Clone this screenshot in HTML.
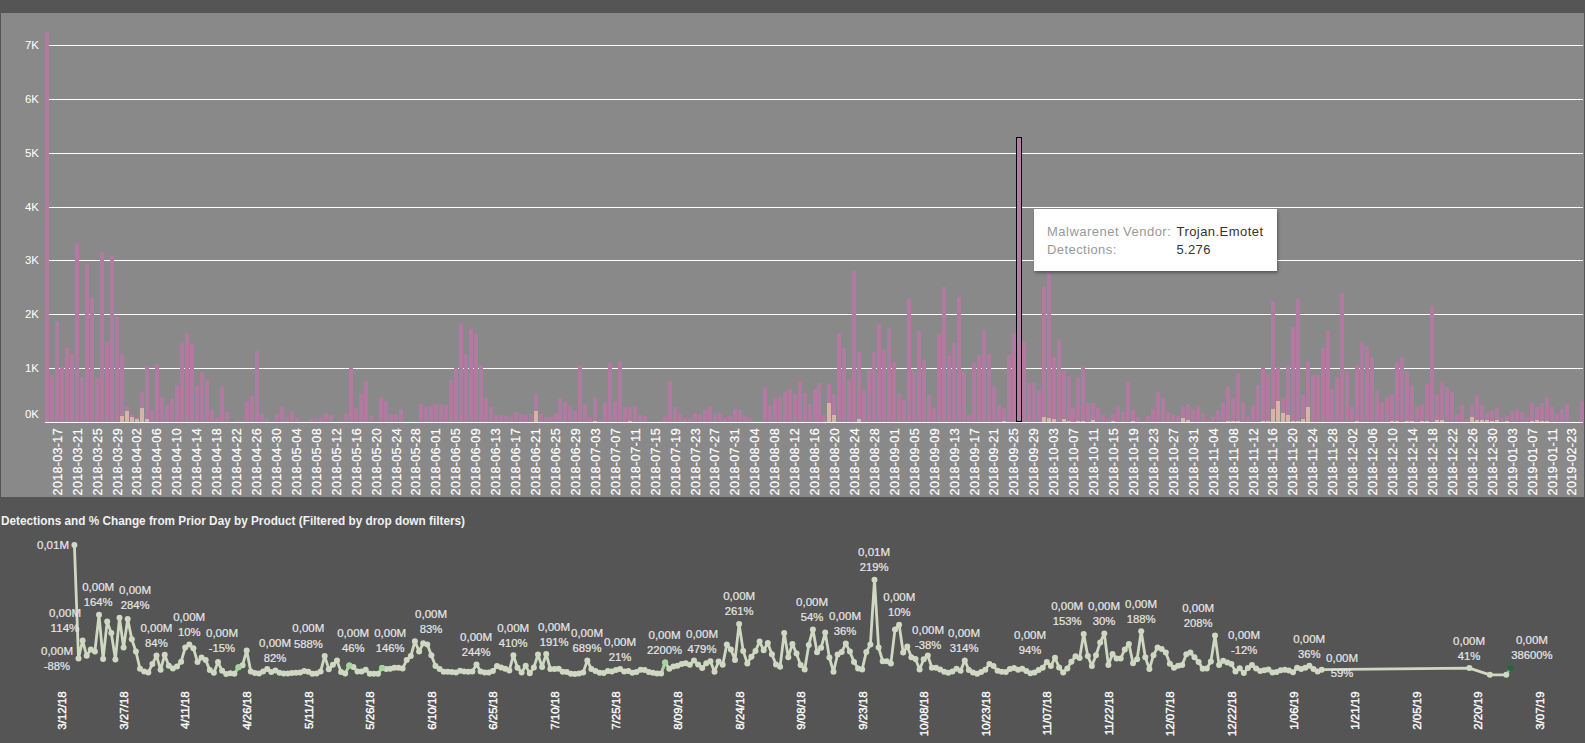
<!DOCTYPE html><html><head><meta charset="utf-8"><title>Detections</title><style>
html,body{margin:0;padding:0;background:#555555;overflow:hidden}
svg{display:block}
text{font-family:'Liberation Sans', Arial, sans-serif}
</style></head><body>
<svg width="1585" height="743" viewBox="0 0 1585 743">
<rect width="1585" height="743" fill="#555555"/>
<rect x="1" y="13" width="1583" height="484" fill="#898989"/>
<g fill="#ffffff" shape-rendering="crispEdges">
<rect x="45" y="45" width="1538" height="1"/>
<rect x="45" y="99" width="1538" height="1"/>
<rect x="45" y="153" width="1538" height="1"/>
<rect x="45" y="207" width="1538" height="1"/>
<rect x="45" y="260" width="1538" height="1"/>
<rect x="45" y="314" width="1538" height="1"/>
<rect x="45" y="368" width="1538" height="1"/>
</g>
<g fill="#ffffff" font-size="11" text-anchor="end">
<text x="39" y="48.6" textLength="14" lengthAdjust="spacingAndGlyphs">7K</text>
<text x="39" y="102.6" textLength="14" lengthAdjust="spacingAndGlyphs">6K</text>
<text x="39" y="156.6" textLength="14" lengthAdjust="spacingAndGlyphs">5K</text>
<text x="39" y="210.6" textLength="14" lengthAdjust="spacingAndGlyphs">4K</text>
<text x="39" y="263.6" textLength="14" lengthAdjust="spacingAndGlyphs">3K</text>
<text x="39" y="317.6" textLength="14" lengthAdjust="spacingAndGlyphs">2K</text>
<text x="39" y="371.6" textLength="14" lengthAdjust="spacingAndGlyphs">1K</text>
<text x="39" y="418.1" textLength="14" lengthAdjust="spacingAndGlyphs">0K</text>
</g>
<g shape-rendering="crispEdges">
<rect x="45" y="32.0" width="4" height="390.0" fill="#b07aa1"/>
<rect x="50" y="375.0" width="4" height="47.0" fill="#b07aa1"/>
<rect x="55" y="321.0" width="4" height="101.0" fill="#b07aa1"/>
<rect x="60" y="367.0" width="4" height="55.0" fill="#b07aa1"/>
<rect x="65" y="348.0" width="4" height="74.0" fill="#b07aa1"/>
<rect x="70" y="354.0" width="4" height="68.0" fill="#b07aa1"/>
<rect x="75" y="243.0" width="4" height="179.0" fill="#b07aa1"/>
<rect x="80" y="377.0" width="4" height="45.0" fill="#b07aa1"/>
<rect x="85" y="263.5" width="4" height="158.5" fill="#b07aa1"/>
<rect x="90" y="298.0" width="4" height="124.0" fill="#b07aa1"/>
<rect x="95" y="378.0" width="4" height="44.0" fill="#b07aa1"/>
<rect x="100" y="252.0" width="4" height="170.0" fill="#b07aa1"/>
<rect x="105" y="342.0" width="4" height="80.0" fill="#b07aa1"/>
<rect x="110" y="255.5" width="4" height="166.5" fill="#b07aa1"/>
<rect x="115" y="317.0" width="4" height="105.0" fill="#b07aa1"/>
<rect x="120" y="354.0" width="4" height="61.8" fill="#b07aa1"/>
<rect x="120" y="415.8" width="4" height="6.2" fill="#d7b5a6"/>
<rect x="125" y="406.0" width="4" height="5.0" fill="#b07aa1"/>
<rect x="125" y="411.0" width="4" height="11.0" fill="#d7b5a6"/>
<rect x="130" y="414.0" width="4" height="3.0" fill="#b07aa1"/>
<rect x="130" y="417.0" width="4" height="5.0" fill="#d7b5a6"/>
<rect x="135" y="417.0" width="4" height="1.9" fill="#b07aa1"/>
<rect x="135" y="418.9" width="4" height="3.1" fill="#d7b5a6"/>
<rect x="140" y="392.0" width="4" height="16.0" fill="#b07aa1"/>
<rect x="140" y="408.0" width="4" height="14.0" fill="#d7b5a6"/>
<rect x="145" y="366.0" width="4" height="53.0" fill="#b07aa1"/>
<rect x="145" y="419.0" width="4" height="3.0" fill="#d7b5a6"/>
<rect x="150" y="409.5" width="4" height="12.5" fill="#b07aa1"/>
<rect x="155" y="364.0" width="4" height="58.0" fill="#b07aa1"/>
<rect x="160" y="397.0" width="4" height="25.0" fill="#b07aa1"/>
<rect x="165" y="405.0" width="4" height="17.0" fill="#b07aa1"/>
<rect x="170" y="399.0" width="4" height="23.0" fill="#b07aa1"/>
<rect x="175" y="385.0" width="4" height="37.0" fill="#b07aa1"/>
<rect x="180" y="342.0" width="4" height="80.0" fill="#b07aa1"/>
<rect x="185" y="333.0" width="4" height="89.0" fill="#b07aa1"/>
<rect x="190" y="344.0" width="4" height="78.0" fill="#b07aa1"/>
<rect x="195" y="386.0" width="4" height="36.0" fill="#b07aa1"/>
<rect x="200" y="372.0" width="4" height="50.0" fill="#b07aa1"/>
<rect x="205" y="380.0" width="4" height="42.0" fill="#b07aa1"/>
<rect x="210" y="410.0" width="4" height="12.0" fill="#b07aa1"/>
<rect x="215" y="418.0" width="4" height="4.0" fill="#b07aa1"/>
<rect x="220" y="386.0" width="4" height="36.0" fill="#b07aa1"/>
<rect x="225" y="412.0" width="4" height="10.0" fill="#b07aa1"/>
<rect x="235" y="420.0" width="4" height="2.0" fill="#b07aa1"/>
<rect x="240" y="421.0" width="4" height="1.0" fill="#b07aa1"/>
<rect x="245" y="401.5" width="4" height="20.5" fill="#b07aa1"/>
<rect x="250" y="395.5" width="4" height="26.5" fill="#b07aa1"/>
<rect x="255" y="351.0" width="4" height="71.0" fill="#b07aa1"/>
<rect x="260" y="414.0" width="4" height="8.0" fill="#b07aa1"/>
<rect x="265" y="419.0" width="4" height="3.0" fill="#b07aa1"/>
<rect x="270" y="420.5" width="4" height="1.5" fill="#b07aa1"/>
<rect x="275" y="414.0" width="4" height="8.0" fill="#b07aa1"/>
<rect x="280" y="407.0" width="4" height="15.0" fill="#b07aa1"/>
<rect x="285" y="416.5" width="4" height="5.5" fill="#b07aa1"/>
<rect x="290" y="411.0" width="4" height="11.0" fill="#b07aa1"/>
<rect x="295" y="418.0" width="4" height="4.0" fill="#b07aa1"/>
<rect x="300" y="420.5" width="4" height="1.5" fill="#b07aa1"/>
<rect x="304" y="420.5" width="4" height="1.5" fill="#b07aa1"/>
<rect x="309" y="419.0" width="4" height="3.0" fill="#b07aa1"/>
<rect x="314" y="418.5" width="4" height="3.5" fill="#b07aa1"/>
<rect x="319" y="417.0" width="4" height="5.0" fill="#b07aa1"/>
<rect x="324" y="413.0" width="4" height="9.0" fill="#b07aa1"/>
<rect x="329" y="415.0" width="4" height="7.0" fill="#b07aa1"/>
<rect x="334" y="421.5" width="4" height="0.5" fill="#b07aa1"/>
<rect x="339" y="420.5" width="4" height="1.5" fill="#b07aa1"/>
<rect x="344" y="414.0" width="4" height="8.0" fill="#b07aa1"/>
<rect x="349" y="368.0" width="4" height="54.0" fill="#b07aa1"/>
<rect x="354" y="407.5" width="4" height="14.5" fill="#b07aa1"/>
<rect x="359" y="394.0" width="4" height="28.0" fill="#b07aa1"/>
<rect x="364" y="381.0" width="4" height="41.0" fill="#b07aa1"/>
<rect x="369" y="416.0" width="4" height="6.0" fill="#b07aa1"/>
<rect x="374" y="420.5" width="4" height="1.5" fill="#b07aa1"/>
<rect x="379" y="396.5" width="4" height="25.5" fill="#b07aa1"/>
<rect x="384" y="401.0" width="4" height="21.0" fill="#b07aa1"/>
<rect x="389" y="414.0" width="4" height="8.0" fill="#b07aa1"/>
<rect x="394" y="414.0" width="4" height="8.0" fill="#b07aa1"/>
<rect x="399" y="409.0" width="4" height="13.0" fill="#b07aa1"/>
<rect x="404" y="421.5" width="4" height="0.5" fill="#b07aa1"/>
<rect x="409" y="421.0" width="4" height="1.0" fill="#b07aa1"/>
<rect x="414" y="421.0" width="4" height="1.0" fill="#b07aa1"/>
<rect x="419" y="404.0" width="4" height="18.0" fill="#b07aa1"/>
<rect x="424" y="407.0" width="4" height="15.0" fill="#b07aa1"/>
<rect x="429" y="406.0" width="4" height="16.0" fill="#b07aa1"/>
<rect x="434" y="403.5" width="4" height="18.5" fill="#b07aa1"/>
<rect x="439" y="403.5" width="4" height="18.5" fill="#b07aa1"/>
<rect x="444" y="405.0" width="4" height="17.0" fill="#b07aa1"/>
<rect x="449" y="380.0" width="4" height="42.0" fill="#b07aa1"/>
<rect x="454" y="368.0" width="4" height="54.0" fill="#b07aa1"/>
<rect x="459" y="323.0" width="4" height="99.0" fill="#b07aa1"/>
<rect x="464" y="354.0" width="4" height="68.0" fill="#b07aa1"/>
<rect x="469" y="329.0" width="4" height="93.0" fill="#b07aa1"/>
<rect x="474" y="333.0" width="4" height="89.0" fill="#b07aa1"/>
<rect x="479" y="365.0" width="4" height="57.0" fill="#b07aa1"/>
<rect x="484" y="398.0" width="4" height="24.0" fill="#b07aa1"/>
<rect x="489" y="407.0" width="4" height="15.0" fill="#b07aa1"/>
<rect x="494" y="415.0" width="4" height="7.0" fill="#b07aa1"/>
<rect x="499" y="415.0" width="4" height="7.0" fill="#b07aa1"/>
<rect x="504" y="416.0" width="4" height="6.0" fill="#b07aa1"/>
<rect x="509" y="417.0" width="4" height="5.0" fill="#b07aa1"/>
<rect x="514" y="412.0" width="4" height="10.0" fill="#b07aa1"/>
<rect x="519" y="414.0" width="4" height="8.0" fill="#b07aa1"/>
<rect x="524" y="415.0" width="4" height="7.0" fill="#b07aa1"/>
<rect x="529" y="414.0" width="4" height="8.0" fill="#b07aa1"/>
<rect x="534" y="393.5" width="4" height="17.6" fill="#b07aa1"/>
<rect x="534" y="411.1" width="4" height="10.9" fill="#d7b5a6"/>
<rect x="539" y="414.0" width="4" height="8.0" fill="#b07aa1"/>
<rect x="544" y="417.0" width="4" height="5.0" fill="#b07aa1"/>
<rect x="549" y="417.0" width="4" height="5.0" fill="#b07aa1"/>
<rect x="554" y="413.0" width="4" height="9.0" fill="#b07aa1"/>
<rect x="558" y="398.0" width="4" height="24.0" fill="#b07aa1"/>
<rect x="563" y="402.0" width="4" height="20.0" fill="#b07aa1"/>
<rect x="568" y="406.0" width="4" height="16.0" fill="#b07aa1"/>
<rect x="573" y="411.0" width="4" height="11.0" fill="#b07aa1"/>
<rect x="578" y="365.0" width="4" height="57.0" fill="#b07aa1"/>
<rect x="583" y="403.5" width="4" height="18.5" fill="#b07aa1"/>
<rect x="588" y="417.0" width="4" height="5.0" fill="#b07aa1"/>
<rect x="593" y="397.0" width="4" height="23.8" fill="#b07aa1"/>
<rect x="593" y="420.8" width="4" height="1.2" fill="#d7b5a6"/>
<rect x="598" y="420.0" width="4" height="2.0" fill="#b07aa1"/>
<rect x="603" y="402.0" width="4" height="20.0" fill="#b07aa1"/>
<rect x="608" y="363.0" width="4" height="59.0" fill="#b07aa1"/>
<rect x="613" y="401.0" width="4" height="21.0" fill="#b07aa1"/>
<rect x="618" y="361.0" width="4" height="61.0" fill="#b07aa1"/>
<rect x="623" y="407.0" width="4" height="15.0" fill="#b07aa1"/>
<rect x="628" y="407.0" width="4" height="14.0" fill="#b07aa1"/>
<rect x="628" y="421.0" width="4" height="1.0" fill="#d7b5a6"/>
<rect x="633" y="406.0" width="4" height="16.0" fill="#b07aa1"/>
<rect x="638" y="415.0" width="4" height="7.0" fill="#b07aa1"/>
<rect x="643" y="416.0" width="4" height="6.0" fill="#b07aa1"/>
<rect x="648" y="421.5" width="4" height="0.5" fill="#b07aa1"/>
<rect x="658" y="420.5" width="4" height="1.5" fill="#b07aa1"/>
<rect x="663" y="417.0" width="4" height="5.0" fill="#b07aa1"/>
<rect x="668" y="381.0" width="4" height="41.0" fill="#b07aa1"/>
<rect x="673" y="407.0" width="4" height="15.0" fill="#b07aa1"/>
<rect x="678" y="413.0" width="4" height="9.0" fill="#b07aa1"/>
<rect x="683" y="418.0" width="4" height="4.0" fill="#b07aa1"/>
<rect x="688" y="419.0" width="4" height="3.0" fill="#b07aa1"/>
<rect x="693" y="413.0" width="4" height="9.0" fill="#b07aa1"/>
<rect x="698" y="414.0" width="4" height="8.0" fill="#b07aa1"/>
<rect x="703" y="410.0" width="4" height="12.0" fill="#b07aa1"/>
<rect x="708" y="407.0" width="4" height="15.0" fill="#b07aa1"/>
<rect x="713" y="414.0" width="4" height="8.0" fill="#b07aa1"/>
<rect x="718" y="413.0" width="4" height="9.0" fill="#b07aa1"/>
<rect x="723" y="418.0" width="4" height="4.0" fill="#b07aa1"/>
<rect x="728" y="416.0" width="4" height="6.0" fill="#b07aa1"/>
<rect x="733" y="409.0" width="4" height="13.0" fill="#b07aa1"/>
<rect x="738" y="410.0" width="4" height="12.0" fill="#b07aa1"/>
<rect x="743" y="416.0" width="4" height="6.0" fill="#b07aa1"/>
<rect x="748" y="418.0" width="4" height="4.0" fill="#b07aa1"/>
<rect x="753" y="420.5" width="4" height="1.5" fill="#b07aa1"/>
<rect x="758" y="420.5" width="4" height="1.5" fill="#b07aa1"/>
<rect x="763" y="387.0" width="4" height="35.0" fill="#b07aa1"/>
<rect x="768" y="406.0" width="4" height="16.0" fill="#b07aa1"/>
<rect x="773" y="399.0" width="4" height="23.0" fill="#b07aa1"/>
<rect x="778" y="397.0" width="4" height="25.0" fill="#b07aa1"/>
<rect x="783" y="392.0" width="4" height="30.0" fill="#b07aa1"/>
<rect x="788" y="389.0" width="4" height="33.0" fill="#b07aa1"/>
<rect x="793" y="394.0" width="4" height="28.0" fill="#b07aa1"/>
<rect x="798" y="381.0" width="4" height="41.0" fill="#b07aa1"/>
<rect x="803" y="393.0" width="4" height="29.0" fill="#b07aa1"/>
<rect x="808" y="404.0" width="4" height="18.0" fill="#b07aa1"/>
<rect x="813" y="389.0" width="4" height="33.0" fill="#b07aa1"/>
<rect x="817" y="383.0" width="4" height="39.0" fill="#b07aa1"/>
<rect x="822" y="415.0" width="4" height="7.0" fill="#b07aa1"/>
<rect x="827" y="384.0" width="4" height="19.1" fill="#b07aa1"/>
<rect x="827" y="403.1" width="4" height="18.9" fill="#d7b5a6"/>
<rect x="832" y="394.0" width="4" height="21.2" fill="#b07aa1"/>
<rect x="832" y="415.2" width="4" height="6.8" fill="#d7b5a6"/>
<rect x="837" y="333.0" width="4" height="89.0" fill="#b07aa1"/>
<rect x="842" y="348.0" width="4" height="74.0" fill="#b07aa1"/>
<rect x="847" y="380.0" width="4" height="42.0" fill="#b07aa1"/>
<rect x="852" y="271.0" width="4" height="151.0" fill="#b07aa1"/>
<rect x="857" y="352.0" width="4" height="66.8" fill="#b07aa1"/>
<rect x="857" y="418.8" width="4" height="3.2" fill="#d7b5a6"/>
<rect x="862" y="390.0" width="4" height="32.0" fill="#b07aa1"/>
<rect x="867" y="370.0" width="4" height="52.0" fill="#b07aa1"/>
<rect x="872" y="352.0" width="4" height="70.0" fill="#b07aa1"/>
<rect x="877" y="324.0" width="4" height="98.0" fill="#b07aa1"/>
<rect x="882" y="350.0" width="4" height="72.0" fill="#b07aa1"/>
<rect x="887" y="328.0" width="4" height="94.0" fill="#b07aa1"/>
<rect x="892" y="362.0" width="4" height="60.0" fill="#b07aa1"/>
<rect x="897" y="393.0" width="4" height="29.0" fill="#b07aa1"/>
<rect x="902" y="400.0" width="4" height="22.0" fill="#b07aa1"/>
<rect x="907" y="298.0" width="4" height="124.0" fill="#b07aa1"/>
<rect x="912" y="371.0" width="4" height="51.0" fill="#b07aa1"/>
<rect x="917" y="331.0" width="4" height="91.0" fill="#b07aa1"/>
<rect x="922" y="360.0" width="4" height="62.0" fill="#b07aa1"/>
<rect x="927" y="395.0" width="4" height="27.0" fill="#b07aa1"/>
<rect x="932" y="408.0" width="4" height="14.0" fill="#b07aa1"/>
<rect x="937" y="334.0" width="4" height="88.0" fill="#b07aa1"/>
<rect x="942" y="287.0" width="4" height="135.0" fill="#b07aa1"/>
<rect x="947" y="356.0" width="4" height="66.0" fill="#b07aa1"/>
<rect x="952" y="343.0" width="4" height="79.0" fill="#b07aa1"/>
<rect x="957" y="297.0" width="4" height="125.0" fill="#b07aa1"/>
<rect x="962" y="372.0" width="4" height="50.0" fill="#b07aa1"/>
<rect x="967" y="415.0" width="4" height="7.0" fill="#b07aa1"/>
<rect x="972" y="363.0" width="4" height="59.0" fill="#b07aa1"/>
<rect x="977" y="355.0" width="4" height="67.0" fill="#b07aa1"/>
<rect x="982" y="330.0" width="4" height="92.0" fill="#b07aa1"/>
<rect x="987" y="354.0" width="4" height="68.0" fill="#b07aa1"/>
<rect x="992" y="386.0" width="4" height="36.0" fill="#b07aa1"/>
<rect x="997" y="405.0" width="4" height="17.0" fill="#b07aa1"/>
<rect x="1002" y="408.0" width="4" height="13.0" fill="#b07aa1"/>
<rect x="1002" y="421.0" width="4" height="1.0" fill="#d7b5a6"/>
<rect x="1007" y="355.0" width="4" height="67.0" fill="#b07aa1"/>
<rect x="1012" y="333.0" width="4" height="89.0" fill="#b07aa1"/>
<rect x="1022" y="342.0" width="4" height="80.0" fill="#b07aa1"/>
<rect x="1027" y="383.0" width="4" height="39.0" fill="#b07aa1"/>
<rect x="1032" y="383.0" width="4" height="39.0" fill="#b07aa1"/>
<rect x="1037" y="390.0" width="4" height="32.0" fill="#b07aa1"/>
<rect x="1042" y="287.0" width="4" height="130.1" fill="#b07aa1"/>
<rect x="1042" y="417.1" width="4" height="4.9" fill="#d7b5a6"/>
<rect x="1047" y="273.0" width="4" height="145.1" fill="#b07aa1"/>
<rect x="1047" y="418.1" width="4" height="3.9" fill="#d7b5a6"/>
<rect x="1052" y="357.0" width="4" height="62.1" fill="#b07aa1"/>
<rect x="1052" y="419.1" width="4" height="2.9" fill="#d7b5a6"/>
<rect x="1057" y="339.0" width="4" height="83.0" fill="#b07aa1"/>
<rect x="1062" y="371.0" width="4" height="48.1" fill="#b07aa1"/>
<rect x="1062" y="419.1" width="4" height="2.9" fill="#d7b5a6"/>
<rect x="1067" y="376.0" width="4" height="45.0" fill="#b07aa1"/>
<rect x="1067" y="421.0" width="4" height="1.0" fill="#d7b5a6"/>
<rect x="1071" y="408.0" width="4" height="14.0" fill="#b07aa1"/>
<rect x="1076" y="377.0" width="4" height="44.0" fill="#b07aa1"/>
<rect x="1076" y="421.0" width="4" height="1.0" fill="#d7b5a6"/>
<rect x="1081" y="366.0" width="4" height="55.0" fill="#b07aa1"/>
<rect x="1081" y="421.0" width="4" height="1.0" fill="#d7b5a6"/>
<rect x="1086" y="403.0" width="4" height="19.0" fill="#b07aa1"/>
<rect x="1091" y="403.0" width="4" height="17.0" fill="#b07aa1"/>
<rect x="1091" y="420.0" width="4" height="2.0" fill="#d7b5a6"/>
<rect x="1096" y="408.0" width="4" height="14.0" fill="#b07aa1"/>
<rect x="1101" y="415.0" width="4" height="7.0" fill="#b07aa1"/>
<rect x="1106" y="418.0" width="4" height="4.0" fill="#b07aa1"/>
<rect x="1111" y="414.0" width="4" height="7.0" fill="#b07aa1"/>
<rect x="1111" y="421.0" width="4" height="1.0" fill="#d7b5a6"/>
<rect x="1116" y="406.0" width="4" height="16.0" fill="#b07aa1"/>
<rect x="1121" y="412.0" width="4" height="10.0" fill="#b07aa1"/>
<rect x="1126" y="381.0" width="4" height="41.0" fill="#b07aa1"/>
<rect x="1131" y="410.0" width="4" height="11.0" fill="#b07aa1"/>
<rect x="1131" y="421.0" width="4" height="1.0" fill="#d7b5a6"/>
<rect x="1136" y="417.0" width="4" height="5.0" fill="#b07aa1"/>
<rect x="1141" y="421.5" width="4" height="0.5" fill="#b07aa1"/>
<rect x="1146" y="416.0" width="4" height="6.0" fill="#b07aa1"/>
<rect x="1151" y="409.0" width="4" height="13.0" fill="#b07aa1"/>
<rect x="1156" y="392.0" width="4" height="30.0" fill="#b07aa1"/>
<rect x="1161" y="398.0" width="4" height="24.0" fill="#b07aa1"/>
<rect x="1166" y="412.0" width="4" height="10.0" fill="#b07aa1"/>
<rect x="1171" y="415.0" width="4" height="7.0" fill="#b07aa1"/>
<rect x="1176" y="416.0" width="4" height="6.0" fill="#b07aa1"/>
<rect x="1181" y="407.0" width="4" height="11.1" fill="#b07aa1"/>
<rect x="1181" y="418.1" width="4" height="3.9" fill="#d7b5a6"/>
<rect x="1186" y="404.0" width="4" height="16.0" fill="#b07aa1"/>
<rect x="1186" y="420.0" width="4" height="2.0" fill="#d7b5a6"/>
<rect x="1191" y="409.0" width="4" height="13.0" fill="#b07aa1"/>
<rect x="1196" y="406.0" width="4" height="16.0" fill="#b07aa1"/>
<rect x="1201" y="413.0" width="4" height="9.0" fill="#b07aa1"/>
<rect x="1206" y="420.0" width="4" height="2.0" fill="#b07aa1"/>
<rect x="1211" y="417.0" width="4" height="5.0" fill="#b07aa1"/>
<rect x="1216" y="410.0" width="4" height="12.0" fill="#b07aa1"/>
<rect x="1221" y="403.0" width="4" height="19.0" fill="#b07aa1"/>
<rect x="1226" y="386.0" width="4" height="35.0" fill="#b07aa1"/>
<rect x="1226" y="421.0" width="4" height="1.0" fill="#d7b5a6"/>
<rect x="1231" y="398.0" width="4" height="23.0" fill="#b07aa1"/>
<rect x="1231" y="421.0" width="4" height="1.0" fill="#d7b5a6"/>
<rect x="1236" y="373.0" width="4" height="48.0" fill="#b07aa1"/>
<rect x="1236" y="421.0" width="4" height="1.0" fill="#d7b5a6"/>
<rect x="1241" y="402.0" width="4" height="20.0" fill="#b07aa1"/>
<rect x="1246" y="417.0" width="4" height="5.0" fill="#b07aa1"/>
<rect x="1251" y="405.0" width="4" height="17.0" fill="#b07aa1"/>
<rect x="1256" y="385.0" width="4" height="37.0" fill="#b07aa1"/>
<rect x="1261" y="368.0" width="4" height="53.0" fill="#b07aa1"/>
<rect x="1261" y="421.0" width="4" height="1.0" fill="#d7b5a6"/>
<rect x="1266" y="374.0" width="4" height="47.0" fill="#b07aa1"/>
<rect x="1266" y="421.0" width="4" height="1.0" fill="#d7b5a6"/>
<rect x="1271" y="301.0" width="4" height="108.1" fill="#b07aa1"/>
<rect x="1271" y="409.1" width="4" height="12.9" fill="#d7b5a6"/>
<rect x="1276" y="367.0" width="4" height="34.1" fill="#b07aa1"/>
<rect x="1276" y="401.1" width="4" height="20.9" fill="#d7b5a6"/>
<rect x="1281" y="398.0" width="4" height="15.0" fill="#b07aa1"/>
<rect x="1281" y="413.0" width="4" height="9.0" fill="#d7b5a6"/>
<rect x="1286" y="365.0" width="4" height="50.2" fill="#b07aa1"/>
<rect x="1286" y="415.2" width="4" height="6.8" fill="#d7b5a6"/>
<rect x="1291" y="327.0" width="4" height="94.0" fill="#b07aa1"/>
<rect x="1291" y="421.0" width="4" height="1.0" fill="#d7b5a6"/>
<rect x="1296" y="299.0" width="4" height="122.0" fill="#b07aa1"/>
<rect x="1296" y="421.0" width="4" height="1.0" fill="#d7b5a6"/>
<rect x="1301" y="395.0" width="4" height="24.1" fill="#b07aa1"/>
<rect x="1301" y="419.1" width="4" height="2.9" fill="#d7b5a6"/>
<rect x="1306" y="361.0" width="4" height="46.2" fill="#b07aa1"/>
<rect x="1306" y="407.2" width="4" height="14.8" fill="#d7b5a6"/>
<rect x="1311" y="375.0" width="4" height="47.0" fill="#b07aa1"/>
<rect x="1316" y="375.0" width="4" height="47.0" fill="#b07aa1"/>
<rect x="1321" y="348.0" width="4" height="74.0" fill="#b07aa1"/>
<rect x="1326" y="331.0" width="4" height="91.0" fill="#b07aa1"/>
<rect x="1330" y="389.0" width="4" height="33.0" fill="#b07aa1"/>
<rect x="1335" y="377.0" width="4" height="45.0" fill="#b07aa1"/>
<rect x="1340" y="293.0" width="4" height="129.0" fill="#b07aa1"/>
<rect x="1345" y="371.0" width="4" height="51.0" fill="#b07aa1"/>
<rect x="1350" y="407.0" width="4" height="15.0" fill="#b07aa1"/>
<rect x="1355" y="365.0" width="4" height="56.0" fill="#b07aa1"/>
<rect x="1355" y="421.0" width="4" height="1.0" fill="#d7b5a6"/>
<rect x="1360" y="342.0" width="4" height="80.0" fill="#b07aa1"/>
<rect x="1365" y="346.0" width="4" height="76.0" fill="#b07aa1"/>
<rect x="1370" y="357.0" width="4" height="65.0" fill="#b07aa1"/>
<rect x="1375" y="391.0" width="4" height="31.0" fill="#b07aa1"/>
<rect x="1380" y="403.0" width="4" height="19.0" fill="#b07aa1"/>
<rect x="1385" y="397.0" width="4" height="25.0" fill="#b07aa1"/>
<rect x="1390" y="395.0" width="4" height="26.0" fill="#b07aa1"/>
<rect x="1390" y="421.0" width="4" height="1.0" fill="#d7b5a6"/>
<rect x="1395" y="362.0" width="4" height="59.0" fill="#b07aa1"/>
<rect x="1395" y="421.0" width="4" height="1.0" fill="#d7b5a6"/>
<rect x="1400" y="357.0" width="4" height="65.0" fill="#b07aa1"/>
<rect x="1405" y="371.0" width="4" height="50.0" fill="#b07aa1"/>
<rect x="1405" y="421.0" width="4" height="1.0" fill="#d7b5a6"/>
<rect x="1410" y="386.0" width="4" height="35.0" fill="#b07aa1"/>
<rect x="1410" y="421.0" width="4" height="1.0" fill="#d7b5a6"/>
<rect x="1415" y="406.0" width="4" height="16.0" fill="#b07aa1"/>
<rect x="1420" y="405.0" width="4" height="16.0" fill="#b07aa1"/>
<rect x="1420" y="421.0" width="4" height="1.0" fill="#d7b5a6"/>
<rect x="1425" y="384.0" width="4" height="37.0" fill="#b07aa1"/>
<rect x="1425" y="421.0" width="4" height="1.0" fill="#d7b5a6"/>
<rect x="1430" y="306.0" width="4" height="116.0" fill="#b07aa1"/>
<rect x="1435" y="395.0" width="4" height="25.0" fill="#b07aa1"/>
<rect x="1435" y="420.0" width="4" height="2.0" fill="#d7b5a6"/>
<rect x="1440" y="382.0" width="4" height="37.8" fill="#b07aa1"/>
<rect x="1440" y="419.8" width="4" height="2.2" fill="#d7b5a6"/>
<rect x="1445" y="387.0" width="4" height="35.0" fill="#b07aa1"/>
<rect x="1450" y="391.5" width="4" height="30.5" fill="#b07aa1"/>
<rect x="1455" y="414.0" width="4" height="8.0" fill="#b07aa1"/>
<rect x="1460" y="405.0" width="4" height="17.0" fill="#b07aa1"/>
<rect x="1465" y="419.0" width="4" height="3.0" fill="#b07aa1"/>
<rect x="1470" y="404.0" width="4" height="12.9" fill="#b07aa1"/>
<rect x="1470" y="416.9" width="4" height="5.1" fill="#d7b5a6"/>
<rect x="1475" y="395.0" width="4" height="24.8" fill="#b07aa1"/>
<rect x="1475" y="419.8" width="4" height="2.2" fill="#d7b5a6"/>
<rect x="1480" y="405.0" width="4" height="14.8" fill="#b07aa1"/>
<rect x="1480" y="419.8" width="4" height="2.2" fill="#d7b5a6"/>
<rect x="1485" y="413.0" width="4" height="6.8" fill="#b07aa1"/>
<rect x="1485" y="419.8" width="4" height="2.2" fill="#d7b5a6"/>
<rect x="1490" y="411.0" width="4" height="10.0" fill="#b07aa1"/>
<rect x="1490" y="421.0" width="4" height="1.0" fill="#d7b5a6"/>
<rect x="1495" y="408.0" width="4" height="11.8" fill="#b07aa1"/>
<rect x="1495" y="419.8" width="4" height="2.2" fill="#d7b5a6"/>
<rect x="1500" y="418.0" width="4" height="4.0" fill="#b07aa1"/>
<rect x="1505" y="416.0" width="4" height="5.0" fill="#b07aa1"/>
<rect x="1505" y="421.0" width="4" height="1.0" fill="#d7b5a6"/>
<rect x="1510" y="411.0" width="4" height="11.0" fill="#b07aa1"/>
<rect x="1515" y="409.0" width="4" height="13.0" fill="#b07aa1"/>
<rect x="1520" y="412.0" width="4" height="10.0" fill="#b07aa1"/>
<rect x="1525" y="417.0" width="4" height="5.0" fill="#b07aa1"/>
<rect x="1530" y="403.0" width="4" height="18.0" fill="#b07aa1"/>
<rect x="1530" y="421.0" width="4" height="1.0" fill="#d7b5a6"/>
<rect x="1535" y="407.0" width="4" height="12.8" fill="#b07aa1"/>
<rect x="1535" y="419.8" width="4" height="2.2" fill="#d7b5a6"/>
<rect x="1540" y="403.0" width="4" height="18.0" fill="#b07aa1"/>
<rect x="1540" y="421.0" width="4" height="1.0" fill="#d7b5a6"/>
<rect x="1545" y="397.0" width="4" height="24.0" fill="#b07aa1"/>
<rect x="1545" y="421.0" width="4" height="1.0" fill="#d7b5a6"/>
<rect x="1550" y="407.0" width="4" height="15.0" fill="#b07aa1"/>
<rect x="1555" y="414.0" width="4" height="8.0" fill="#b07aa1"/>
<rect x="1560" y="409.0" width="4" height="13.0" fill="#b07aa1"/>
<rect x="1565" y="404.0" width="4" height="18.0" fill="#b07aa1"/>
<rect x="1580" y="401.0" width="4" height="21.0" fill="#b07aa1"/>
</g>
<rect x="1016" y="137" width="6" height="285" fill="#000" shape-rendering="crispEdges"/>
<rect x="1017" y="138" width="4" height="283" fill="#b57ca7" shape-rendering="crispEdges"/>
<rect x="45" y="422" width="1538" height="1" fill="#ffffff" shape-rendering="crispEdges"/>
<g fill="#ffffff" stroke="#ffffff" stroke-width="0.2" font-size="12.5" text-anchor="end">
<text transform="translate(61.7,428.4) rotate(-90)" textLength="67" lengthAdjust="spacing">2018-03-17</text>
<text transform="translate(81.6,428.4) rotate(-90)" textLength="67" lengthAdjust="spacing">2018-03-21</text>
<text transform="translate(101.6,428.4) rotate(-90)" textLength="67" lengthAdjust="spacing">2018-03-25</text>
<text transform="translate(121.5,428.4) rotate(-90)" textLength="67" lengthAdjust="spacing">2018-03-29</text>
<text transform="translate(141.4,428.4) rotate(-90)" textLength="67" lengthAdjust="spacing">2018-04-02</text>
<text transform="translate(161.3,428.4) rotate(-90)" textLength="67" lengthAdjust="spacing">2018-04-06</text>
<text transform="translate(181.3,428.4) rotate(-90)" textLength="67" lengthAdjust="spacing">2018-04-10</text>
<text transform="translate(201.2,428.4) rotate(-90)" textLength="67" lengthAdjust="spacing">2018-04-14</text>
<text transform="translate(221.1,428.4) rotate(-90)" textLength="67" lengthAdjust="spacing">2018-04-18</text>
<text transform="translate(241.1,428.4) rotate(-90)" textLength="67" lengthAdjust="spacing">2018-04-22</text>
<text transform="translate(261.0,428.4) rotate(-90)" textLength="67" lengthAdjust="spacing">2018-04-26</text>
<text transform="translate(280.9,428.4) rotate(-90)" textLength="67" lengthAdjust="spacing">2018-04-30</text>
<text transform="translate(300.9,428.4) rotate(-90)" textLength="67" lengthAdjust="spacing">2018-05-04</text>
<text transform="translate(320.8,428.4) rotate(-90)" textLength="67" lengthAdjust="spacing">2018-05-08</text>
<text transform="translate(340.7,428.4) rotate(-90)" textLength="67" lengthAdjust="spacing">2018-05-12</text>
<text transform="translate(360.6,428.4) rotate(-90)" textLength="67" lengthAdjust="spacing">2018-05-16</text>
<text transform="translate(380.6,428.4) rotate(-90)" textLength="67" lengthAdjust="spacing">2018-05-20</text>
<text transform="translate(400.5,428.4) rotate(-90)" textLength="67" lengthAdjust="spacing">2018-05-24</text>
<text transform="translate(420.4,428.4) rotate(-90)" textLength="67" lengthAdjust="spacing">2018-05-28</text>
<text transform="translate(440.4,428.4) rotate(-90)" textLength="67" lengthAdjust="spacing">2018-06-01</text>
<text transform="translate(460.3,428.4) rotate(-90)" textLength="67" lengthAdjust="spacing">2018-06-05</text>
<text transform="translate(480.2,428.4) rotate(-90)" textLength="67" lengthAdjust="spacing">2018-06-09</text>
<text transform="translate(500.2,428.4) rotate(-90)" textLength="67" lengthAdjust="spacing">2018-06-13</text>
<text transform="translate(520.1,428.4) rotate(-90)" textLength="67" lengthAdjust="spacing">2018-06-17</text>
<text transform="translate(540.0,428.4) rotate(-90)" textLength="67" lengthAdjust="spacing">2018-06-21</text>
<text transform="translate(560.0,428.4) rotate(-90)" textLength="67" lengthAdjust="spacing">2018-06-25</text>
<text transform="translate(579.9,428.4) rotate(-90)" textLength="67" lengthAdjust="spacing">2018-06-29</text>
<text transform="translate(599.8,428.4) rotate(-90)" textLength="67" lengthAdjust="spacing">2018-07-03</text>
<text transform="translate(619.7,428.4) rotate(-90)" textLength="67" lengthAdjust="spacing">2018-07-07</text>
<text transform="translate(639.7,428.4) rotate(-90)" textLength="67" lengthAdjust="spacing">2018-07-11</text>
<text transform="translate(659.6,428.4) rotate(-90)" textLength="67" lengthAdjust="spacing">2018-07-15</text>
<text transform="translate(679.5,428.4) rotate(-90)" textLength="67" lengthAdjust="spacing">2018-07-19</text>
<text transform="translate(699.5,428.4) rotate(-90)" textLength="67" lengthAdjust="spacing">2018-07-23</text>
<text transform="translate(719.4,428.4) rotate(-90)" textLength="67" lengthAdjust="spacing">2018-07-27</text>
<text transform="translate(739.3,428.4) rotate(-90)" textLength="67" lengthAdjust="spacing">2018-07-31</text>
<text transform="translate(759.2,428.4) rotate(-90)" textLength="67" lengthAdjust="spacing">2018-08-04</text>
<text transform="translate(779.2,428.4) rotate(-90)" textLength="67" lengthAdjust="spacing">2018-08-08</text>
<text transform="translate(799.1,428.4) rotate(-90)" textLength="67" lengthAdjust="spacing">2018-08-12</text>
<text transform="translate(819.0,428.4) rotate(-90)" textLength="67" lengthAdjust="spacing">2018-08-16</text>
<text transform="translate(839.0,428.4) rotate(-90)" textLength="67" lengthAdjust="spacing">2018-08-20</text>
<text transform="translate(858.9,428.4) rotate(-90)" textLength="67" lengthAdjust="spacing">2018-08-24</text>
<text transform="translate(878.8,428.4) rotate(-90)" textLength="67" lengthAdjust="spacing">2018-08-28</text>
<text transform="translate(898.8,428.4) rotate(-90)" textLength="67" lengthAdjust="spacing">2018-09-01</text>
<text transform="translate(918.7,428.4) rotate(-90)" textLength="67" lengthAdjust="spacing">2018-09-05</text>
<text transform="translate(938.6,428.4) rotate(-90)" textLength="67" lengthAdjust="spacing">2018-09-09</text>
<text transform="translate(958.6,428.4) rotate(-90)" textLength="67" lengthAdjust="spacing">2018-09-13</text>
<text transform="translate(978.5,428.4) rotate(-90)" textLength="67" lengthAdjust="spacing">2018-09-17</text>
<text transform="translate(998.4,428.4) rotate(-90)" textLength="67" lengthAdjust="spacing">2018-09-21</text>
<text transform="translate(1018.3,428.4) rotate(-90)" textLength="67" lengthAdjust="spacing">2018-09-25</text>
<text transform="translate(1038.3,428.4) rotate(-90)" textLength="67" lengthAdjust="spacing">2018-09-29</text>
<text transform="translate(1058.2,428.4) rotate(-90)" textLength="67" lengthAdjust="spacing">2018-10-03</text>
<text transform="translate(1078.1,428.4) rotate(-90)" textLength="67" lengthAdjust="spacing">2018-10-07</text>
<text transform="translate(1098.1,428.4) rotate(-90)" textLength="67" lengthAdjust="spacing">2018-10-11</text>
<text transform="translate(1118.0,428.4) rotate(-90)" textLength="67" lengthAdjust="spacing">2018-10-15</text>
<text transform="translate(1137.9,428.4) rotate(-90)" textLength="67" lengthAdjust="spacing">2018-10-19</text>
<text transform="translate(1157.9,428.4) rotate(-90)" textLength="67" lengthAdjust="spacing">2018-10-23</text>
<text transform="translate(1177.8,428.4) rotate(-90)" textLength="67" lengthAdjust="spacing">2018-10-27</text>
<text transform="translate(1197.7,428.4) rotate(-90)" textLength="67" lengthAdjust="spacing">2018-10-31</text>
<text transform="translate(1217.6,428.4) rotate(-90)" textLength="67" lengthAdjust="spacing">2018-11-04</text>
<text transform="translate(1237.6,428.4) rotate(-90)" textLength="67" lengthAdjust="spacing">2018-11-08</text>
<text transform="translate(1257.5,428.4) rotate(-90)" textLength="67" lengthAdjust="spacing">2018-11-12</text>
<text transform="translate(1277.4,428.4) rotate(-90)" textLength="67" lengthAdjust="spacing">2018-11-16</text>
<text transform="translate(1297.4,428.4) rotate(-90)" textLength="67" lengthAdjust="spacing">2018-11-20</text>
<text transform="translate(1317.3,428.4) rotate(-90)" textLength="67" lengthAdjust="spacing">2018-11-24</text>
<text transform="translate(1337.2,428.4) rotate(-90)" textLength="67" lengthAdjust="spacing">2018-11-28</text>
<text transform="translate(1357.2,428.4) rotate(-90)" textLength="67" lengthAdjust="spacing">2018-12-02</text>
<text transform="translate(1377.1,428.4) rotate(-90)" textLength="67" lengthAdjust="spacing">2018-12-06</text>
<text transform="translate(1397.0,428.4) rotate(-90)" textLength="67" lengthAdjust="spacing">2018-12-10</text>
<text transform="translate(1416.9,428.4) rotate(-90)" textLength="67" lengthAdjust="spacing">2018-12-14</text>
<text transform="translate(1436.9,428.4) rotate(-90)" textLength="67" lengthAdjust="spacing">2018-12-18</text>
<text transform="translate(1456.8,428.4) rotate(-90)" textLength="67" lengthAdjust="spacing">2018-12-22</text>
<text transform="translate(1476.7,428.4) rotate(-90)" textLength="67" lengthAdjust="spacing">2018-12-26</text>
<text transform="translate(1496.7,428.4) rotate(-90)" textLength="67" lengthAdjust="spacing">2018-12-30</text>
<text transform="translate(1516.6,428.4) rotate(-90)" textLength="67" lengthAdjust="spacing">2019-01-03</text>
<text transform="translate(1536.5,428.4) rotate(-90)" textLength="67" lengthAdjust="spacing">2019-01-07</text>
<text transform="translate(1556.5,428.4) rotate(-90)" textLength="67" lengthAdjust="spacing">2019-01-11</text>
<text transform="translate(1576.4,428.4) rotate(-90)" textLength="67" lengthAdjust="spacing">2019-02-23</text>
</g>
<g>
<defs><filter id="sh" x="-10%" y="-20%" width="120%" height="150%"><feGaussianBlur stdDeviation="1.5"/></filter></defs>
<rect x="1035" y="211" width="243" height="62" fill="#000" opacity="0.35" filter="url(#sh)"/>
<rect x="1034" y="209" width="243" height="62" fill="#ffffff"/>
<g font-size="13">
<text x="1047" y="236" fill="#999999" textLength="123.8">Malwarenet Vendor:</text>
<text x="1047" y="254" fill="#999999" textLength="69.3">Detections:</text>
<text x="1176.5" y="236" fill="#333333" textLength="86.5">Trojan.Emotet</text>
<text x="1176.5" y="254" fill="#333333" textLength="33.9">5.276</text>
</g></g>
<text x="1" y="525" fill="#f0f0f0" font-size="12.5" font-weight="bold" textLength="464" lengthAdjust="spacingAndGlyphs">Detections and % Change from Prior Day by Product (Filtered by drop down filters)</text>
<path d="M74.4,545.0 L78.5,658.5 L82.6,640.6 L86.7,655.8 L90.8,649.6 L94.9,651.5 L99.0,614.8 L103.1,659.1 L107.2,621.6 L111.3,633.1 L115.4,659.4 L119.5,617.8 L123.6,647.6 L127.7,619.0 L131.8,639.2 L135.9,651.5 L140.0,668.8 L144.2,671.4 L148.3,672.4 L152.4,664.1 L156.5,655.5 L160.6,669.8 L164.7,654.8 L168.8,665.8 L172.9,668.4 L177.0,666.5 L181.1,661.8 L185.2,647.5 L189.3,644.6 L193.4,648.2 L197.5,662.1 L201.6,657.5 L205.7,660.1 L209.8,670.1 L213.9,672.7 L218.0,662.1 L222.1,670.7 L226.2,673.9 L230.3,673.3 L234.4,673.7 L238.5,667.2 L242.6,665.2 L246.7,650.5 L250.8,671.4 L254.9,673.0 L259.0,673.4 L263.1,671.4 L267.2,669.1 L271.3,672.1 L275.4,670.4 L279.5,672.7 L283.7,673.4 L287.8,673.4 L291.9,673.0 L296.0,672.8 L300.1,672.4 L304.2,671.0 L308.3,671.8 L312.4,673.8 L316.5,673.4 L320.6,671.4 L324.7,656.1 L328.8,669.2 L332.9,664.8 L337.0,660.5 L341.1,672.1 L345.2,673.4 L349.3,665.5 L353.4,667.1 L357.5,671.4 L361.6,671.4 L365.7,669.7 L369.8,673.8 L373.9,673.7 L378.0,673.7 L382.1,668.0 L386.2,669.0 L390.3,668.7 L394.4,667.8 L398.5,667.8 L402.6,668.4 L406.7,660.1 L410.8,656.1 L414.9,641.3 L419.1,651.5 L423.2,643.3 L427.3,644.6 L431.4,655.2 L435.5,666.1 L439.6,669.1 L443.7,671.8 L447.8,671.8 L451.9,672.1 L456.0,672.4 L460.1,670.7 L464.2,671.4 L468.3,671.8 L472.4,671.4 L476.5,664.5 L480.6,671.4 L484.7,672.4 L488.8,672.4 L492.9,671.0 L497.0,666.1 L501.1,667.4 L505.2,668.8 L509.3,670.4 L513.4,655.2 L517.5,667.8 L521.6,672.4 L525.7,665.8 L529.8,673.3 L533.9,667.4 L538.0,654.5 L542.1,667.1 L546.2,653.9 L550.3,669.1 L554.5,669.1 L558.6,668.7 L562.7,671.8 L566.8,672.1 L570.9,673.8 L575.0,674.0 L579.1,673.4 L583.2,672.4 L587.3,660.4 L591.4,669.1 L595.5,671.0 L599.6,672.7 L603.7,673.0 L607.8,671.0 L611.9,671.4 L616.0,670.1 L620.1,669.1 L624.2,671.4 L628.3,671.0 L632.4,672.7 L636.5,672.1 L640.6,669.7 L644.7,670.1 L648.8,672.1 L652.9,672.7 L657.0,673.4 L661.1,673.4 L665.2,662.5 L669.3,668.8 L673.4,666.5 L677.5,665.8 L681.6,664.0 L685.7,663.2 L689.8,664.8 L694.0,660.5 L698.1,664.4 L702.2,668.0 L706.3,663.2 L710.4,661.2 L714.5,671.8 L718.6,661.5 L722.7,664.8 L726.8,644.6 L730.9,649.5 L735.0,660.1 L739.1,624.0 L743.2,650.9 L747.3,663.4 L751.4,656.8 L755.5,650.9 L759.6,641.6 L763.7,650.2 L767.8,643.0 L771.9,654.2 L776.0,664.4 L780.1,666.8 L784.2,633.0 L788.3,657.2 L792.4,643.9 L796.5,653.6 L800.6,665.1 L804.7,669.4 L808.8,644.9 L812.9,629.4 L817.0,652.2 L821.1,647.8 L825.2,632.6 L829.4,657.5 L833.5,671.8 L837.6,654.5 L841.7,651.9 L845.8,643.6 L849.9,651.5 L854.0,662.1 L858.1,668.4 L862.2,669.4 L866.3,651.9 L870.4,644.6 L874.5,579.8 L878.6,647.5 L882.7,661.2 L886.8,661.2 L890.9,663.4 L895.0,629.4 L899.1,624.7 L903.2,652.5 L907.3,646.6 L911.4,657.2 L915.5,658.9 L919.6,669.4 L923.7,659.2 L927.8,655.5 L931.9,667.7 L936.0,667.7 L940.1,669.4 L944.2,671.8 L948.3,672.7 L952.4,671.4 L956.5,668.8 L960.6,670.7 L964.8,660.4 L968.9,670.1 L973.0,672.4 L977.1,673.8 L981.2,672.1 L985.3,669.7 L989.4,664.0 L993.5,666.1 L997.6,670.7 L1001.7,671.8 L1005.8,672.1 L1009.9,669.1 L1014.0,668.0 L1018.1,669.7 L1022.2,668.7 L1026.3,671.0 L1030.4,673.3 L1034.5,672.4 L1038.6,670.1 L1042.7,667.7 L1046.8,662.1 L1050.9,666.1 L1055.0,657.8 L1059.1,667.4 L1063.2,672.4 L1067.3,668.4 L1071.4,661.8 L1075.5,656.2 L1079.6,658.1 L1083.7,634.1 L1087.8,655.9 L1091.9,666.1 L1096.0,655.2 L1100.2,642.6 L1104.3,633.4 L1108.4,665.1 L1112.5,653.9 L1116.6,658.5 L1120.7,658.5 L1124.8,649.5 L1128.9,643.9 L1133.0,663.2 L1137.1,659.2 L1141.2,631.3 L1145.3,657.2 L1149.4,669.1 L1153.5,655.2 L1157.6,647.5 L1161.7,648.9 L1165.8,652.5 L1169.9,663.8 L1174.0,667.7 L1178.1,665.8 L1182.2,665.1 L1186.3,654.2 L1190.4,652.5 L1194.5,657.2 L1198.6,662.1 L1202.7,668.8 L1206.8,668.4 L1210.9,661.5 L1215.0,635.6 L1219.1,665.1 L1223.2,660.7 L1227.3,662.4 L1231.4,664.0 L1235.5,671.4 L1239.7,668.3 L1243.8,673.0 L1247.9,668.1 L1252.0,665.0 L1256.1,668.4 L1260.2,671.0 L1264.3,670.3 L1268.4,669.4 L1272.5,672.6 L1276.6,672.0 L1280.7,670.3 L1284.8,669.7 L1288.9,670.6 L1293.0,672.3 L1297.1,667.7 L1301.2,669.0 L1305.3,667.7 L1309.4,665.8 L1313.5,669.0 L1317.6,671.4 L1321.7,669.7 L1469.4,668.1 L1489.9,674.8 L1506.3,674.8" fill="none" stroke="#cfd9c2" stroke-width="2.8" stroke-linejoin="round"/>
<line x1="1506.3" y1="674.8" x2="1510.5" y2="667.9" stroke="#7fae86" stroke-width="2.6"/>
<line x1="234.4" y1="673.7" x2="238.5" y2="667.2" stroke="#a3d69a" stroke-width="2.6"/>
<line x1="345.2" y1="673.4" x2="349.3" y2="665.5" stroke="#a3d69a" stroke-width="2.6"/>
<line x1="378.0" y1="673.7" x2="382.1" y2="668.0" stroke="#a3d69a" stroke-width="2.6"/>
<line x1="661.1" y1="673.4" x2="665.2" y2="662.5" stroke="#a3d69a" stroke-width="2.6"/>
<g fill="#cfd9c2">
<circle cx="74.4" cy="545.0" r="3"/>
<circle cx="78.5" cy="658.5" r="3"/>
<circle cx="82.6" cy="640.6" r="3"/>
<circle cx="86.7" cy="655.8" r="3"/>
<circle cx="90.8" cy="649.6" r="3"/>
<circle cx="94.9" cy="651.5" r="3"/>
<circle cx="99.0" cy="614.8" r="3"/>
<circle cx="103.1" cy="659.1" r="3"/>
<circle cx="107.2" cy="621.6" r="3"/>
<circle cx="111.3" cy="633.1" r="3"/>
<circle cx="115.4" cy="659.4" r="3"/>
<circle cx="119.5" cy="617.8" r="3"/>
<circle cx="123.6" cy="647.6" r="3"/>
<circle cx="127.7" cy="619.0" r="3"/>
<circle cx="131.8" cy="639.2" r="3"/>
<circle cx="135.9" cy="651.5" r="3"/>
<circle cx="140.0" cy="668.8" r="3"/>
<circle cx="144.2" cy="671.4" r="3"/>
<circle cx="148.3" cy="672.4" r="3"/>
<circle cx="152.4" cy="664.1" r="3"/>
<circle cx="156.5" cy="655.5" r="3"/>
<circle cx="160.6" cy="669.8" r="3"/>
<circle cx="164.7" cy="654.8" r="3"/>
<circle cx="168.8" cy="665.8" r="3"/>
<circle cx="172.9" cy="668.4" r="3"/>
<circle cx="177.0" cy="666.5" r="3"/>
<circle cx="181.1" cy="661.8" r="3"/>
<circle cx="185.2" cy="647.5" r="3"/>
<circle cx="189.3" cy="644.6" r="3"/>
<circle cx="193.4" cy="648.2" r="3"/>
<circle cx="197.5" cy="662.1" r="3"/>
<circle cx="201.6" cy="657.5" r="3"/>
<circle cx="205.7" cy="660.1" r="3"/>
<circle cx="209.8" cy="670.1" r="3"/>
<circle cx="213.9" cy="672.7" r="3"/>
<circle cx="218.0" cy="662.1" r="3"/>
<circle cx="222.1" cy="670.7" r="3"/>
<circle cx="226.2" cy="673.9" r="3"/>
<circle cx="230.3" cy="673.3" r="3"/>
<circle cx="234.4" cy="673.7" r="3"/>
<circle cx="238.5" cy="667.2" r="3"/>
<circle cx="242.6" cy="665.2" r="3"/>
<circle cx="246.7" cy="650.5" r="3"/>
<circle cx="250.8" cy="671.4" r="3"/>
<circle cx="254.9" cy="673.0" r="3"/>
<circle cx="259.0" cy="673.4" r="3"/>
<circle cx="263.1" cy="671.4" r="3"/>
<circle cx="267.2" cy="669.1" r="3"/>
<circle cx="271.3" cy="672.1" r="3"/>
<circle cx="275.4" cy="670.4" r="3"/>
<circle cx="279.5" cy="672.7" r="3"/>
<circle cx="283.7" cy="673.4" r="3"/>
<circle cx="287.8" cy="673.4" r="3"/>
<circle cx="291.9" cy="673.0" r="3"/>
<circle cx="296.0" cy="672.8" r="3"/>
<circle cx="300.1" cy="672.4" r="3"/>
<circle cx="304.2" cy="671.0" r="3"/>
<circle cx="308.3" cy="671.8" r="3"/>
<circle cx="312.4" cy="673.8" r="3"/>
<circle cx="316.5" cy="673.4" r="3"/>
<circle cx="320.6" cy="671.4" r="3"/>
<circle cx="324.7" cy="656.1" r="3"/>
<circle cx="328.8" cy="669.2" r="3"/>
<circle cx="332.9" cy="664.8" r="3"/>
<circle cx="337.0" cy="660.5" r="3"/>
<circle cx="341.1" cy="672.1" r="3"/>
<circle cx="345.2" cy="673.4" r="3"/>
<circle cx="349.3" cy="665.5" r="3"/>
<circle cx="353.4" cy="667.1" r="3"/>
<circle cx="357.5" cy="671.4" r="3"/>
<circle cx="361.6" cy="671.4" r="3"/>
<circle cx="365.7" cy="669.7" r="3"/>
<circle cx="369.8" cy="673.8" r="3"/>
<circle cx="373.9" cy="673.7" r="3"/>
<circle cx="378.0" cy="673.7" r="3"/>
<circle cx="382.1" cy="668.0" r="3"/>
<circle cx="386.2" cy="669.0" r="3"/>
<circle cx="390.3" cy="668.7" r="3"/>
<circle cx="394.4" cy="667.8" r="3"/>
<circle cx="398.5" cy="667.8" r="3"/>
<circle cx="402.6" cy="668.4" r="3"/>
<circle cx="406.7" cy="660.1" r="3"/>
<circle cx="410.8" cy="656.1" r="3"/>
<circle cx="414.9" cy="641.3" r="3"/>
<circle cx="419.1" cy="651.5" r="3"/>
<circle cx="423.2" cy="643.3" r="3"/>
<circle cx="427.3" cy="644.6" r="3"/>
<circle cx="431.4" cy="655.2" r="3"/>
<circle cx="435.5" cy="666.1" r="3"/>
<circle cx="439.6" cy="669.1" r="3"/>
<circle cx="443.7" cy="671.8" r="3"/>
<circle cx="447.8" cy="671.8" r="3"/>
<circle cx="451.9" cy="672.1" r="3"/>
<circle cx="456.0" cy="672.4" r="3"/>
<circle cx="460.1" cy="670.7" r="3"/>
<circle cx="464.2" cy="671.4" r="3"/>
<circle cx="468.3" cy="671.8" r="3"/>
<circle cx="472.4" cy="671.4" r="3"/>
<circle cx="476.5" cy="664.5" r="3"/>
<circle cx="480.6" cy="671.4" r="3"/>
<circle cx="484.7" cy="672.4" r="3"/>
<circle cx="488.8" cy="672.4" r="3"/>
<circle cx="492.9" cy="671.0" r="3"/>
<circle cx="497.0" cy="666.1" r="3"/>
<circle cx="501.1" cy="667.4" r="3"/>
<circle cx="505.2" cy="668.8" r="3"/>
<circle cx="509.3" cy="670.4" r="3"/>
<circle cx="513.4" cy="655.2" r="3"/>
<circle cx="517.5" cy="667.8" r="3"/>
<circle cx="521.6" cy="672.4" r="3"/>
<circle cx="525.7" cy="665.8" r="3"/>
<circle cx="529.8" cy="673.3" r="3"/>
<circle cx="533.9" cy="667.4" r="3"/>
<circle cx="538.0" cy="654.5" r="3"/>
<circle cx="542.1" cy="667.1" r="3"/>
<circle cx="546.2" cy="653.9" r="3"/>
<circle cx="550.3" cy="669.1" r="3"/>
<circle cx="554.5" cy="669.1" r="3"/>
<circle cx="558.6" cy="668.7" r="3"/>
<circle cx="562.7" cy="671.8" r="3"/>
<circle cx="566.8" cy="672.1" r="3"/>
<circle cx="570.9" cy="673.8" r="3"/>
<circle cx="575.0" cy="674.0" r="3"/>
<circle cx="579.1" cy="673.4" r="3"/>
<circle cx="583.2" cy="672.4" r="3"/>
<circle cx="587.3" cy="660.4" r="3"/>
<circle cx="591.4" cy="669.1" r="3"/>
<circle cx="595.5" cy="671.0" r="3"/>
<circle cx="599.6" cy="672.7" r="3"/>
<circle cx="603.7" cy="673.0" r="3"/>
<circle cx="607.8" cy="671.0" r="3"/>
<circle cx="611.9" cy="671.4" r="3"/>
<circle cx="616.0" cy="670.1" r="3"/>
<circle cx="620.1" cy="669.1" r="3"/>
<circle cx="624.2" cy="671.4" r="3"/>
<circle cx="628.3" cy="671.0" r="3"/>
<circle cx="632.4" cy="672.7" r="3"/>
<circle cx="636.5" cy="672.1" r="3"/>
<circle cx="640.6" cy="669.7" r="3"/>
<circle cx="644.7" cy="670.1" r="3"/>
<circle cx="648.8" cy="672.1" r="3"/>
<circle cx="652.9" cy="672.7" r="3"/>
<circle cx="657.0" cy="673.4" r="3"/>
<circle cx="661.1" cy="673.4" r="3"/>
<circle cx="665.2" cy="662.5" r="3"/>
<circle cx="669.3" cy="668.8" r="3"/>
<circle cx="673.4" cy="666.5" r="3"/>
<circle cx="677.5" cy="665.8" r="3"/>
<circle cx="681.6" cy="664.0" r="3"/>
<circle cx="685.7" cy="663.2" r="3"/>
<circle cx="689.8" cy="664.8" r="3"/>
<circle cx="694.0" cy="660.5" r="3"/>
<circle cx="698.1" cy="664.4" r="3"/>
<circle cx="702.2" cy="668.0" r="3"/>
<circle cx="706.3" cy="663.2" r="3"/>
<circle cx="710.4" cy="661.2" r="3"/>
<circle cx="714.5" cy="671.8" r="3"/>
<circle cx="718.6" cy="661.5" r="3"/>
<circle cx="722.7" cy="664.8" r="3"/>
<circle cx="726.8" cy="644.6" r="3"/>
<circle cx="730.9" cy="649.5" r="3"/>
<circle cx="735.0" cy="660.1" r="3"/>
<circle cx="739.1" cy="624.0" r="3"/>
<circle cx="743.2" cy="650.9" r="3"/>
<circle cx="747.3" cy="663.4" r="3"/>
<circle cx="751.4" cy="656.8" r="3"/>
<circle cx="755.5" cy="650.9" r="3"/>
<circle cx="759.6" cy="641.6" r="3"/>
<circle cx="763.7" cy="650.2" r="3"/>
<circle cx="767.8" cy="643.0" r="3"/>
<circle cx="771.9" cy="654.2" r="3"/>
<circle cx="776.0" cy="664.4" r="3"/>
<circle cx="780.1" cy="666.8" r="3"/>
<circle cx="784.2" cy="633.0" r="3"/>
<circle cx="788.3" cy="657.2" r="3"/>
<circle cx="792.4" cy="643.9" r="3"/>
<circle cx="796.5" cy="653.6" r="3"/>
<circle cx="800.6" cy="665.1" r="3"/>
<circle cx="804.7" cy="669.4" r="3"/>
<circle cx="808.8" cy="644.9" r="3"/>
<circle cx="812.9" cy="629.4" r="3"/>
<circle cx="817.0" cy="652.2" r="3"/>
<circle cx="821.1" cy="647.8" r="3"/>
<circle cx="825.2" cy="632.6" r="3"/>
<circle cx="829.4" cy="657.5" r="3"/>
<circle cx="833.5" cy="671.8" r="3"/>
<circle cx="837.6" cy="654.5" r="3"/>
<circle cx="841.7" cy="651.9" r="3"/>
<circle cx="845.8" cy="643.6" r="3"/>
<circle cx="849.9" cy="651.5" r="3"/>
<circle cx="854.0" cy="662.1" r="3"/>
<circle cx="858.1" cy="668.4" r="3"/>
<circle cx="862.2" cy="669.4" r="3"/>
<circle cx="866.3" cy="651.9" r="3"/>
<circle cx="870.4" cy="644.6" r="3"/>
<circle cx="874.5" cy="579.8" r="3"/>
<circle cx="878.6" cy="647.5" r="3"/>
<circle cx="882.7" cy="661.2" r="3"/>
<circle cx="886.8" cy="661.2" r="3"/>
<circle cx="890.9" cy="663.4" r="3"/>
<circle cx="895.0" cy="629.4" r="3"/>
<circle cx="899.1" cy="624.7" r="3"/>
<circle cx="903.2" cy="652.5" r="3"/>
<circle cx="907.3" cy="646.6" r="3"/>
<circle cx="911.4" cy="657.2" r="3"/>
<circle cx="915.5" cy="658.9" r="3"/>
<circle cx="919.6" cy="669.4" r="3"/>
<circle cx="923.7" cy="659.2" r="3"/>
<circle cx="927.8" cy="655.5" r="3"/>
<circle cx="931.9" cy="667.7" r="3"/>
<circle cx="936.0" cy="667.7" r="3"/>
<circle cx="940.1" cy="669.4" r="3"/>
<circle cx="944.2" cy="671.8" r="3"/>
<circle cx="948.3" cy="672.7" r="3"/>
<circle cx="952.4" cy="671.4" r="3"/>
<circle cx="956.5" cy="668.8" r="3"/>
<circle cx="960.6" cy="670.7" r="3"/>
<circle cx="964.8" cy="660.4" r="3"/>
<circle cx="968.9" cy="670.1" r="3"/>
<circle cx="973.0" cy="672.4" r="3"/>
<circle cx="977.1" cy="673.8" r="3"/>
<circle cx="981.2" cy="672.1" r="3"/>
<circle cx="985.3" cy="669.7" r="3"/>
<circle cx="989.4" cy="664.0" r="3"/>
<circle cx="993.5" cy="666.1" r="3"/>
<circle cx="997.6" cy="670.7" r="3"/>
<circle cx="1001.7" cy="671.8" r="3"/>
<circle cx="1005.8" cy="672.1" r="3"/>
<circle cx="1009.9" cy="669.1" r="3"/>
<circle cx="1014.0" cy="668.0" r="3"/>
<circle cx="1018.1" cy="669.7" r="3"/>
<circle cx="1022.2" cy="668.7" r="3"/>
<circle cx="1026.3" cy="671.0" r="3"/>
<circle cx="1030.4" cy="673.3" r="3"/>
<circle cx="1034.5" cy="672.4" r="3"/>
<circle cx="1038.6" cy="670.1" r="3"/>
<circle cx="1042.7" cy="667.7" r="3"/>
<circle cx="1046.8" cy="662.1" r="3"/>
<circle cx="1050.9" cy="666.1" r="3"/>
<circle cx="1055.0" cy="657.8" r="3"/>
<circle cx="1059.1" cy="667.4" r="3"/>
<circle cx="1063.2" cy="672.4" r="3"/>
<circle cx="1067.3" cy="668.4" r="3"/>
<circle cx="1071.4" cy="661.8" r="3"/>
<circle cx="1075.5" cy="656.2" r="3"/>
<circle cx="1079.6" cy="658.1" r="3"/>
<circle cx="1083.7" cy="634.1" r="3"/>
<circle cx="1087.8" cy="655.9" r="3"/>
<circle cx="1091.9" cy="666.1" r="3"/>
<circle cx="1096.0" cy="655.2" r="3"/>
<circle cx="1100.2" cy="642.6" r="3"/>
<circle cx="1104.3" cy="633.4" r="3"/>
<circle cx="1108.4" cy="665.1" r="3"/>
<circle cx="1112.5" cy="653.9" r="3"/>
<circle cx="1116.6" cy="658.5" r="3"/>
<circle cx="1120.7" cy="658.5" r="3"/>
<circle cx="1124.8" cy="649.5" r="3"/>
<circle cx="1128.9" cy="643.9" r="3"/>
<circle cx="1133.0" cy="663.2" r="3"/>
<circle cx="1137.1" cy="659.2" r="3"/>
<circle cx="1141.2" cy="631.3" r="3"/>
<circle cx="1145.3" cy="657.2" r="3"/>
<circle cx="1149.4" cy="669.1" r="3"/>
<circle cx="1153.5" cy="655.2" r="3"/>
<circle cx="1157.6" cy="647.5" r="3"/>
<circle cx="1161.7" cy="648.9" r="3"/>
<circle cx="1165.8" cy="652.5" r="3"/>
<circle cx="1169.9" cy="663.8" r="3"/>
<circle cx="1174.0" cy="667.7" r="3"/>
<circle cx="1178.1" cy="665.8" r="3"/>
<circle cx="1182.2" cy="665.1" r="3"/>
<circle cx="1186.3" cy="654.2" r="3"/>
<circle cx="1190.4" cy="652.5" r="3"/>
<circle cx="1194.5" cy="657.2" r="3"/>
<circle cx="1198.6" cy="662.1" r="3"/>
<circle cx="1202.7" cy="668.8" r="3"/>
<circle cx="1206.8" cy="668.4" r="3"/>
<circle cx="1210.9" cy="661.5" r="3"/>
<circle cx="1215.0" cy="635.6" r="3"/>
<circle cx="1219.1" cy="665.1" r="3"/>
<circle cx="1223.2" cy="660.7" r="3"/>
<circle cx="1227.3" cy="662.4" r="3"/>
<circle cx="1231.4" cy="664.0" r="3"/>
<circle cx="1235.5" cy="671.4" r="3"/>
<circle cx="1239.7" cy="668.3" r="3"/>
<circle cx="1243.8" cy="673.0" r="3"/>
<circle cx="1247.9" cy="668.1" r="3"/>
<circle cx="1252.0" cy="665.0" r="3"/>
<circle cx="1256.1" cy="668.4" r="3"/>
<circle cx="1260.2" cy="671.0" r="3"/>
<circle cx="1264.3" cy="670.3" r="3"/>
<circle cx="1268.4" cy="669.4" r="3"/>
<circle cx="1272.5" cy="672.6" r="3"/>
<circle cx="1276.6" cy="672.0" r="3"/>
<circle cx="1280.7" cy="670.3" r="3"/>
<circle cx="1284.8" cy="669.7" r="3"/>
<circle cx="1288.9" cy="670.6" r="3"/>
<circle cx="1293.0" cy="672.3" r="3"/>
<circle cx="1297.1" cy="667.7" r="3"/>
<circle cx="1301.2" cy="669.0" r="3"/>
<circle cx="1305.3" cy="667.7" r="3"/>
<circle cx="1309.4" cy="665.8" r="3"/>
<circle cx="1313.5" cy="669.0" r="3"/>
<circle cx="1317.6" cy="671.4" r="3"/>
<circle cx="1321.7" cy="669.7" r="3"/>
<circle cx="1469.4" cy="668.1" r="3"/>
<circle cx="1489.9" cy="674.8" r="3"/>
<circle cx="1506.3" cy="674.8" r="3"/>
</g>
<circle cx="1510.5" cy="667.9" r="3" fill="#1f6b38"/>
<circle cx="238.5" cy="667.2" r="3" fill="#a3d69a"/>
<circle cx="349.3" cy="665.5" r="3" fill="#a3d69a"/>
<circle cx="382.1" cy="668.0" r="3" fill="#a3d69a"/>
<circle cx="665.2" cy="662.5" r="3" fill="#a3d69a"/>
<g fill="#e6e6e6" stroke="#e6e6e6" stroke-width="0.2" font-size="11">
<text x="69" y="549.3" text-anchor="end" textLength="32" lengthAdjust="spacingAndGlyphs">0,01M</text>
<text x="65.0" y="617.1" text-anchor="middle" textLength="32" lengthAdjust="spacingAndGlyphs">0,00M</text>
<text x="65.0" y="631.5" text-anchor="middle" textLength="28.8" lengthAdjust="spacingAndGlyphs">114%</text>
<text x="57.0" y="655.1" text-anchor="middle" textLength="32" lengthAdjust="spacingAndGlyphs">0,00M</text>
<text x="57.0" y="670.2" text-anchor="middle" textLength="26.3" lengthAdjust="spacingAndGlyphs">-88%</text>
<text x="98.2" y="591.1" text-anchor="middle" textLength="32" lengthAdjust="spacingAndGlyphs">0,00M</text>
<text x="98.2" y="605.8" text-anchor="middle" textLength="28.8" lengthAdjust="spacingAndGlyphs">164%</text>
<text x="135.1" y="593.5" text-anchor="middle" textLength="32" lengthAdjust="spacingAndGlyphs">0,00M</text>
<text x="135.1" y="608.6" text-anchor="middle" textLength="28.8" lengthAdjust="spacingAndGlyphs">284%</text>
<text x="156.4" y="631.6" text-anchor="middle" textLength="32" lengthAdjust="spacingAndGlyphs">0,00M</text>
<text x="156.4" y="647.2" text-anchor="middle" textLength="22.6" lengthAdjust="spacingAndGlyphs">84%</text>
<text x="189.2" y="620.6" text-anchor="middle" textLength="32" lengthAdjust="spacingAndGlyphs">0,00M</text>
<text x="189.2" y="636.1" text-anchor="middle" textLength="22.6" lengthAdjust="spacingAndGlyphs">10%</text>
<text x="222.0" y="636.9" text-anchor="middle" textLength="32" lengthAdjust="spacingAndGlyphs">0,00M</text>
<text x="222.0" y="652.3" text-anchor="middle" textLength="26.3" lengthAdjust="spacingAndGlyphs">-15%</text>
<text x="275.1" y="647.0" text-anchor="middle" textLength="32" lengthAdjust="spacingAndGlyphs">0,00M</text>
<text x="275.1" y="661.8" text-anchor="middle" textLength="22.6" lengthAdjust="spacingAndGlyphs">82%</text>
<text x="308.3" y="632.3" text-anchor="middle" textLength="32" lengthAdjust="spacingAndGlyphs">0,00M</text>
<text x="308.3" y="647.8" text-anchor="middle" textLength="28.8" lengthAdjust="spacingAndGlyphs">588%</text>
<text x="353.2" y="637.1" text-anchor="middle" textLength="32" lengthAdjust="spacingAndGlyphs">0,00M</text>
<text x="353.2" y="652.2" text-anchor="middle" textLength="22.6" lengthAdjust="spacingAndGlyphs">46%</text>
<text x="390.2" y="637.1" text-anchor="middle" textLength="32" lengthAdjust="spacingAndGlyphs">0,00M</text>
<text x="390.2" y="652.2" text-anchor="middle" textLength="28.8" lengthAdjust="spacingAndGlyphs">146%</text>
<text x="431.1" y="617.9" text-anchor="middle" textLength="32" lengthAdjust="spacingAndGlyphs">0,00M</text>
<text x="431.1" y="633.1" text-anchor="middle" textLength="22.6" lengthAdjust="spacingAndGlyphs">83%</text>
<text x="476.1" y="640.7" text-anchor="middle" textLength="32" lengthAdjust="spacingAndGlyphs">0,00M</text>
<text x="476.1" y="655.7" text-anchor="middle" textLength="28.8" lengthAdjust="spacingAndGlyphs">244%</text>
<text x="513.2" y="631.6" text-anchor="middle" textLength="32" lengthAdjust="spacingAndGlyphs">0,00M</text>
<text x="513.2" y="646.8" text-anchor="middle" textLength="28.8" lengthAdjust="spacingAndGlyphs">410%</text>
<text x="554.1" y="630.6" text-anchor="middle" textLength="32" lengthAdjust="spacingAndGlyphs">0,00M</text>
<text x="554.1" y="646.2" text-anchor="middle" textLength="28.8" lengthAdjust="spacingAndGlyphs">191%</text>
<text x="587.0" y="636.7" text-anchor="middle" textLength="32" lengthAdjust="spacingAndGlyphs">0,00M</text>
<text x="587.0" y="651.8" text-anchor="middle" textLength="28.8" lengthAdjust="spacingAndGlyphs">689%</text>
<text x="620.1" y="645.8" text-anchor="middle" textLength="32" lengthAdjust="spacingAndGlyphs">0,00M</text>
<text x="620.1" y="660.7" text-anchor="middle" textLength="22.6" lengthAdjust="spacingAndGlyphs">21%</text>
<text x="664.5" y="638.6" text-anchor="middle" textLength="32" lengthAdjust="spacingAndGlyphs">0,00M</text>
<text x="664.5" y="653.8" text-anchor="middle" textLength="35.1" lengthAdjust="spacingAndGlyphs">2200%</text>
<text x="702.0" y="637.7" text-anchor="middle" textLength="32" lengthAdjust="spacingAndGlyphs">0,00M</text>
<text x="702.0" y="652.8" text-anchor="middle" textLength="28.8" lengthAdjust="spacingAndGlyphs">479%</text>
<text x="739.2" y="600.0" text-anchor="middle" textLength="32" lengthAdjust="spacingAndGlyphs">0,00M</text>
<text x="739.2" y="614.8" text-anchor="middle" textLength="28.8" lengthAdjust="spacingAndGlyphs">261%</text>
<text x="812.1" y="605.7" text-anchor="middle" textLength="32" lengthAdjust="spacingAndGlyphs">0,00M</text>
<text x="812.1" y="620.5" text-anchor="middle" textLength="22.6" lengthAdjust="spacingAndGlyphs">54%</text>
<text x="845.0" y="620.0" text-anchor="middle" textLength="32" lengthAdjust="spacingAndGlyphs">0,00M</text>
<text x="845.0" y="634.5" text-anchor="middle" textLength="22.6" lengthAdjust="spacingAndGlyphs">36%</text>
<text x="874.1" y="555.6" text-anchor="middle" textLength="32" lengthAdjust="spacingAndGlyphs">0,01M</text>
<text x="874.1" y="570.8" text-anchor="middle" textLength="28.8" lengthAdjust="spacingAndGlyphs">219%</text>
<text x="899.3" y="601.1" text-anchor="middle" textLength="32" lengthAdjust="spacingAndGlyphs">0,00M</text>
<text x="899.3" y="615.9" text-anchor="middle" textLength="22.6" lengthAdjust="spacingAndGlyphs">10%</text>
<text x="928.1" y="634.0" text-anchor="middle" textLength="32" lengthAdjust="spacingAndGlyphs">0,00M</text>
<text x="928.1" y="649.0" text-anchor="middle" textLength="26.3" lengthAdjust="spacingAndGlyphs">-38%</text>
<text x="964.1" y="636.9" text-anchor="middle" textLength="32" lengthAdjust="spacingAndGlyphs">0,00M</text>
<text x="964.1" y="652.0" text-anchor="middle" textLength="28.8" lengthAdjust="spacingAndGlyphs">314%</text>
<text x="1030.1" y="638.5" text-anchor="middle" textLength="32" lengthAdjust="spacingAndGlyphs">0,00M</text>
<text x="1030.1" y="653.6" text-anchor="middle" textLength="22.6" lengthAdjust="spacingAndGlyphs">94%</text>
<text x="1067.2" y="609.8" text-anchor="middle" textLength="32" lengthAdjust="spacingAndGlyphs">0,00M</text>
<text x="1067.2" y="624.8" text-anchor="middle" textLength="28.8" lengthAdjust="spacingAndGlyphs">153%</text>
<text x="1104.1" y="609.8" text-anchor="middle" textLength="32" lengthAdjust="spacingAndGlyphs">0,00M</text>
<text x="1104.1" y="624.8" text-anchor="middle" textLength="22.6" lengthAdjust="spacingAndGlyphs">30%</text>
<text x="1141.1" y="608.2" text-anchor="middle" textLength="32" lengthAdjust="spacingAndGlyphs">0,00M</text>
<text x="1141.1" y="622.7" text-anchor="middle" textLength="28.8" lengthAdjust="spacingAndGlyphs">188%</text>
<text x="1198.2" y="611.8" text-anchor="middle" textLength="32" lengthAdjust="spacingAndGlyphs">0,00M</text>
<text x="1198.2" y="627.0" text-anchor="middle" textLength="28.8" lengthAdjust="spacingAndGlyphs">208%</text>
<text x="1244.1" y="638.7" text-anchor="middle" textLength="32" lengthAdjust="spacingAndGlyphs">0,00M</text>
<text x="1244.1" y="654.1" text-anchor="middle" textLength="26.3" lengthAdjust="spacingAndGlyphs">-12%</text>
<text x="1309.2" y="642.8" text-anchor="middle" textLength="32" lengthAdjust="spacingAndGlyphs">0,00M</text>
<text x="1309.2" y="657.9" text-anchor="middle" textLength="22.6" lengthAdjust="spacingAndGlyphs">36%</text>
<text x="1342.1" y="661.7" text-anchor="middle" textLength="32" lengthAdjust="spacingAndGlyphs">0,00M</text>
<text x="1342.1" y="676.8" text-anchor="middle" textLength="22.6" lengthAdjust="spacingAndGlyphs">59%</text>
<text x="1469.1" y="644.7" text-anchor="middle" textLength="32" lengthAdjust="spacingAndGlyphs">0,00M</text>
<text x="1469.1" y="659.5" text-anchor="middle" textLength="22.6" lengthAdjust="spacingAndGlyphs">41%</text>
<text x="1531.9" y="644.0" text-anchor="middle" textLength="32" lengthAdjust="spacingAndGlyphs">0,00M</text>
<text x="1531.9" y="658.8" text-anchor="middle" textLength="41.4" lengthAdjust="spacingAndGlyphs">38600%</text>
</g>
<g fill="#ffffff" stroke="#ffffff" stroke-width="0.35" font-size="11.5" text-anchor="end">
<text transform="translate(66.3,691.4) rotate(-90)">3/12/18</text>
<text transform="translate(127.9,691.4) rotate(-90)">3/27/18</text>
<text transform="translate(189.4,691.4) rotate(-90)">4/11/18</text>
<text transform="translate(251.0,691.4) rotate(-90)">4/26/18</text>
<text transform="translate(312.5,691.4) rotate(-90)">5/11/18</text>
<text transform="translate(374.1,691.4) rotate(-90)">5/26/18</text>
<text transform="translate(435.7,691.4) rotate(-90)">6/10/18</text>
<text transform="translate(497.2,691.4) rotate(-90)">6/25/18</text>
<text transform="translate(558.8,691.4) rotate(-90)">7/10/18</text>
<text transform="translate(620.3,691.4) rotate(-90)">7/25/18</text>
<text transform="translate(681.9,691.4) rotate(-90)">8/09/18</text>
<text transform="translate(743.5,691.4) rotate(-90)">8/24/18</text>
<text transform="translate(805.0,691.4) rotate(-90)">9/08/18</text>
<text transform="translate(866.6,691.4) rotate(-90)">9/23/18</text>
<text transform="translate(928.1,691.4) rotate(-90)">10/08/18</text>
<text transform="translate(989.7,691.4) rotate(-90)">10/23/18</text>
<text transform="translate(1051.3,691.4) rotate(-90)">11/07/18</text>
<text transform="translate(1112.8,691.4) rotate(-90)">11/22/18</text>
<text transform="translate(1174.4,691.4) rotate(-90)">12/07/18</text>
<text transform="translate(1235.9,691.4) rotate(-90)">12/22/18</text>
<text transform="translate(1297.5,691.4) rotate(-90)">1/06/19</text>
<text transform="translate(1359.1,691.4) rotate(-90)">1/21/19</text>
<text transform="translate(1420.6,691.4) rotate(-90)">2/05/19</text>
<text transform="translate(1482.2,691.4) rotate(-90)">2/20/19</text>
<text transform="translate(1543.7,691.4) rotate(-90)">3/07/19</text>
</g>
</svg></body></html>
